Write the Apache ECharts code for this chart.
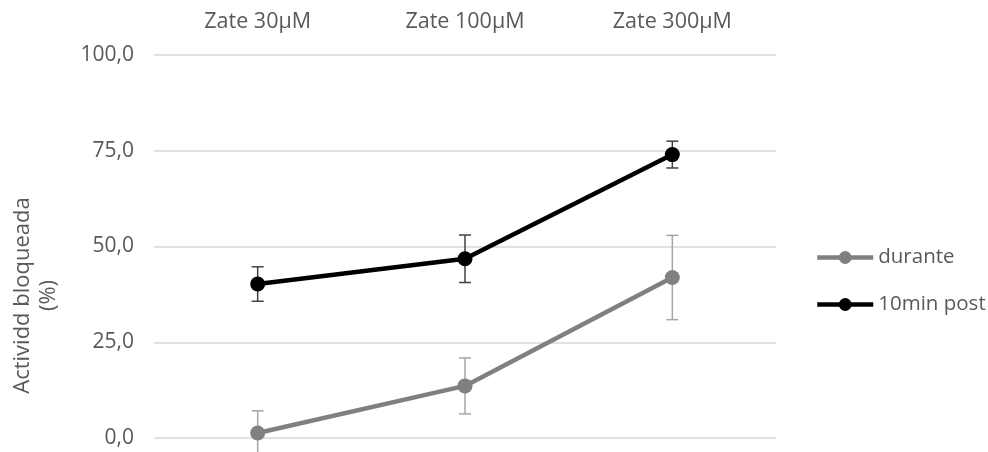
<!DOCTYPE html>
<html><head><meta charset="utf-8">
<script src="https://cdn.jsdelivr.net/npm/echarts@6/dist/echarts.min.js"></script>
<style>html,body{margin:0;padding:0;background:#fff}#c{width:988px;height:452px}</style>
</head><body><div id="c"></div>
<script>
const categories = ['Zate 30µM', 'Zate 100µM', 'Zate 300µM'];
const durante = [1.3, 13.6, 41.9];
const duranteErr = [5.8, 7.3, 11.0];
const post = [40.2, 46.8, 74.0];
const postErr = [4.5, 6.2, 3.5];
const yTicks = [0, 25, 50, 75, 100];

const FONT = '"Open Sans", sans-serif';
const TXT = '#595959';

function errSeries(vals, errs, color) {
  return {
    type: 'custom',
    silent: true,
    clip: false,
    z: 1,
    data: vals.map((v, i) => [i, v - errs[i], v + errs[i]]),
    renderItem: function (params, api) {
      const lo = api.coord([api.value(0), api.value(1)]);
      const hi = api.coord([api.value(0), api.value(2)]);
      const hw = 6;
      const style = { stroke: color, lineWidth: 1.5 };
      return {
        type: 'group',
        children: [
          { type: 'line', shape: { x1: lo[0], y1: lo[1], x2: hi[0], y2: hi[1] }, style },
          { type: 'line', shape: { x1: hi[0] - hw, y1: hi[1], x2: hi[0] + hw, y2: hi[1] }, style },
          { type: 'line', shape: { x1: lo[0] - hw, y1: lo[1], x2: lo[0] + hw, y2: lo[1] }, style }
        ]
      };
    }
  };
}

const chart = echarts.init(document.getElementById('c'));
chart.setOption({
  animation: false,
  backgroundColor: '#fff',
  grid: { left: 154, right: 212, top: 55, bottom: 14, containLabel: false, outerBoundsMode: 'none' },
  legend: {
    orient: 'vertical',
    left: 815,
    top: 247,
    padding: 0,
    itemWidth: 56,
    itemHeight: 16,
    itemGap: 26,
    data: ['durante', '10min post'],
    lineStyle: { width: 4.5 },
    textStyle: { fontFamily: FONT, fontSize: 20.5, color: TXT }
  },
  xAxis: {
    type: 'category',
    position: 'top',
    data: categories,
    boundaryGap: true,
    axisLine: { show: false },
    axisTick: { show: false },
    axisLabel: { fontFamily: FONT, fontSize: 21.5, color: TXT, margin: 22 },
    splitLine: { show: false }
  },
  yAxis: {
    type: 'value',
    min: yTicks[0],
    max: yTicks[yTicks.length - 1],
    interval: 25,
    name: 'Actividd bloqueada\n(%)',
    nameLocation: 'middle',
    nameGap: 92,
    nameRotate: 90,
    nameTextStyle: { fontFamily: FONT, fontSize: 22, color: TXT, lineHeight: 26, padding: [0, 98, 0, 0] },
    axisLine: { show: false },
    axisTick: { show: false },
    axisLabel: {
      fontFamily: FONT, fontSize: 21, color: TXT, margin: 20,
      formatter: v => v.toFixed(1).replace('.', ',')
    },
    splitLine: { lineStyle: { color: '#d9d9d9', width: 1.5 } }
  },
  series: [
    errSeries(durante, duranteErr, '#a6a6a6'),
    errSeries(post, postErr, '#404040'),
    {
      name: 'durante',
      type: 'line',
      data: durante,
      symbol: 'circle',
      symbolSize: 15,
      z: 3,
      lineStyle: { color: '#808080', width: 4.5 },
      itemStyle: { color: '#808080' }
    },
    {
      name: '10min post',
      type: 'line',
      data: post,
      symbol: 'circle',
      symbolSize: 15,
      z: 3,
      lineStyle: { color: '#000000', width: 4.5 },
      itemStyle: { color: '#000000' }
    }
  ]
});
</script>
</body></html>
